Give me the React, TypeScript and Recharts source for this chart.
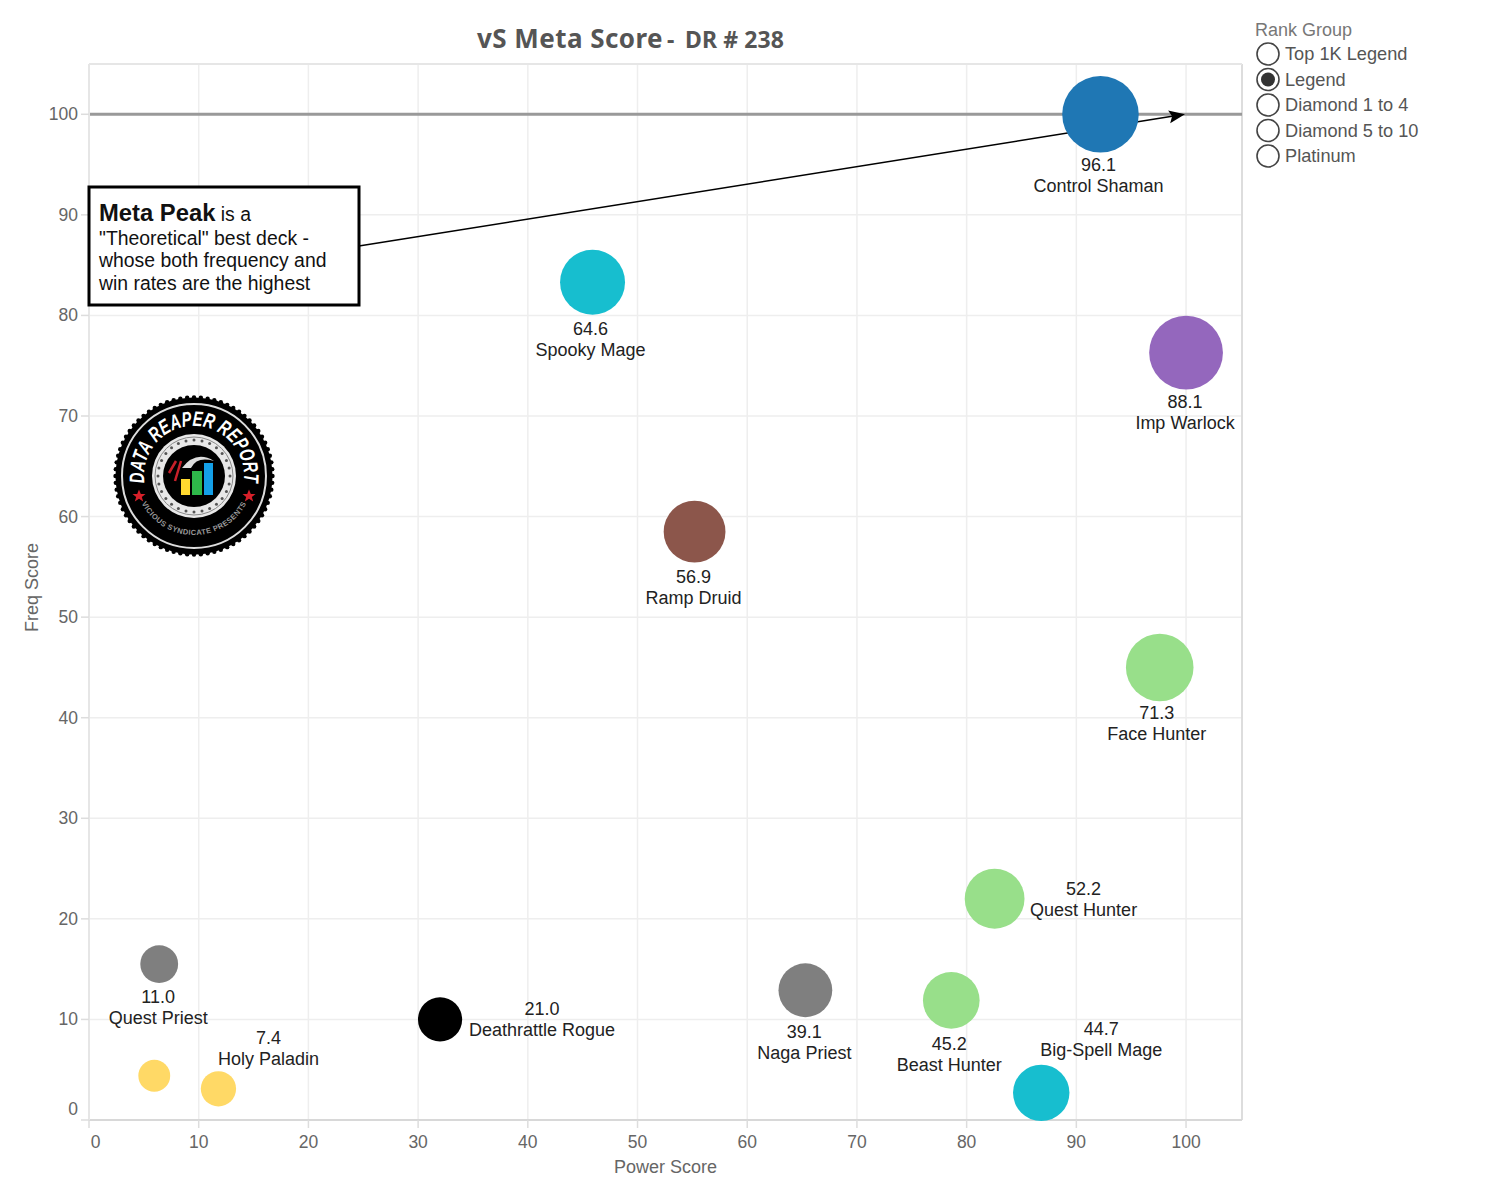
import React from "react";
import { ScatterChart, Scatter, XAxis, YAxis, ZAxis, CartesianGrid, ReferenceLine } from "recharts";

const decks = ["Control Shaman","Spooky Mage","Imp Warlock","Ramp Druid","Face Hunter","Quest Hunter","Beast Hunter","Big-Spell Mage","Naga Priest","Deathrattle Rogue","Quest Priest","Holy Paladin","Other Paladin"];
const powerScores = [92.2,45.9,100,55.2,97.6,82.55,78.6,86.8,65.3,32,6.4,11.8,5.95];
const freqScores = [100,83.3,76.3,58.5,45,22,11.9,2.7,12.9,10,15.5,3.1,4.4];
const metaScores = [96.1,64.6,88.1,56.9,71.3,52.2,45.2,44.7,39.1,21.0,11.0,7.4,3.0];
const deckClasses = ["Shaman","Mage","Warlock","Druid","Hunter","Hunter","Hunter","Mage","Priest","Rogue","Priest","Paladin","Paladin"];
const tickValues = [0,10,20,30,40,50,60,70,80,90,100];
const rankGroups = ["Top 1K Legend","Legend","Diamond 1 to 4","Diamond 5 to 10","Platinum"];
const selectedRank = "Legend";

const classColors: Record<string,string> = {
  Shaman:"#1f77b4", Mage:"#17becf", Warlock:"#9467bd", Druid:"#8c564b",
  Hunter:"#98df8a", Priest:"#7f7f7f", Rogue:"#000000", Paladin:"#ffd966",
};
const labelOffsets: Record<string,[number,number]> = {
  "Control Shaman":[-2,51],"Spooky Mage":[-2,47],"Imp Warlock":[-1,49],"Ramp Druid":[-1,45],
  "Face Hunter":[-3,46],"Quest Hunter":[89,-10],"Beast Hunter":[-2,44],"Big-Spell Mage":[60,-64],
  "Naga Priest":[-1,42],"Deathrattle Rogue":[102,-10],"Quest Priest":[-1,33],"Holy Paladin":[50,-51],
};
const rows = decks.map((name,i)=>({name,power:powerScores[i],freq:freqScores[i],meta:metaScores[i],cls:deckClasses[i]}));
const FONT = "'Liberation Sans', Arial, sans-serif";

const Bubble = (p:any) => {
  const d = p.payload; const r = Math.sqrt(p.size/Math.PI); const off = labelOffsets[d.name];
  return <g>
    <circle cx={p.cx} cy={p.cy} r={r} fill={classColors[d.cls]} />
    {off && <text textAnchor="middle" fontFamily={FONT} fontSize={18} fill="#222">
      <tspan x={p.cx+off[0]} y={p.cy+off[1]+6}>{d.meta.toFixed(1)}</tspan>
      <tspan x={p.cx+off[0]} y={p.cy+off[1]+27}>{d.name}</tspan>
    </text>}
  </g>;
};
const XTick = (p:any) => <g>
  <line x1={p.x} x2={p.x} y1={1120} y2={1128} stroke="#ddd" strokeWidth={1.5}/>
  <text x={p.payload.value===0?p.x+6.5:p.x} y={1148} textAnchor="middle" fontFamily={FONT} fontSize={17.5} fill="#666">{p.payload.value}</text>
</g>;
const YTick = (p:any) => <g>
  <line x1={81} x2={89} y1={p.y} y2={p.y} stroke="#ddd" strokeWidth={1.5}/>
  <text x={78} y={(p.payload.value===0?p.y-11:p.y)+6} textAnchor="end" fontFamily={FONT} fontSize={17.5} fill="#666">{p.payload.value}</text>
</g>;
const Arrow = (p:any) => {
  const {x1,y1,x2,y2} = p; const a = Math.atan2(y2-y1,x2-x1); const L=16,W=6.5;
  const bx=x2-L*Math.cos(a), by=y2-L*Math.sin(a);
  return <g>
    <line x1={x1} y1={y1} x2={bx+3*Math.cos(a)} y2={by+3*Math.sin(a)} stroke="#000" strokeWidth={1.5}/>
    <polygon points={`${x2},${y2} ${bx-W*Math.sin(a)},${by+W*Math.cos(a)} ${bx+3*Math.cos(a)},${by+3*Math.sin(a)} ${bx+W*Math.sin(a)},${by-W*Math.cos(a)}`} fill="#000"/>
  </g>;
};
const Logo = () => {
  const cx=194, cy=476;
  const teeth = Array.from({length:72},(_,i)=>i*5);
  const dots = Array.from({length:28},(_,i)=>i*360/28);
  const star = "0,-6.5 1.8,-2 6.5,-2 2.8,1 4.2,5.5 0,2.8 -4.2,5.5 -2.8,1 -6.5,-2 -1.8,-2";
  return <g>
    {teeth.map(a=><circle key={a} cx={cx+78.5*Math.cos(a*Math.PI/180)} cy={cy+78.5*Math.sin(a*Math.PI/180)} r={2.2} fill="#000"/>)}
    <circle cx={cx} cy={cy} r={78.5} fill="#000"/>
    <circle cx={cx} cy={cy} r={72} fill="none" stroke="#ddd" strokeWidth={2}/>
    <defs>
      <path id="logoTop" d={`M ${cx-49.5} ${cy+7} A 50 50 0 1 1 ${cx+49.5} ${cy+7}`}/>
      <path id="logoBottom" d={`M ${cx-52} ${cy+28} A 59 59 0 0 0 ${cx+52} ${cy+28}`}/>
    </defs>
    <text fontFamily={FONT} fontWeight="bold" fontStyle="italic" fontSize={21} fill="#fff">
      <textPath href="#logoTop" textLength={170} lengthAdjust="spacingAndGlyphs">DATA REAPER REPORT</textPath>
    </text>
    <text fontFamily={FONT} fontWeight="bold" fontSize={7.5} fill="#999" letterSpacing={0.4}>
      <textPath href="#logoBottom" startOffset="50%" textAnchor="middle">VICIOUS SYNDICATE PRESENTS</textPath>
    </text>
    <polygon transform={`translate(${cx-55},${cy+20})`} points={star} fill="#d8202a"/>
    <polygon transform={`translate(${cx+55},${cy+20})`} points={star} fill="#d8202a"/>
    <circle cx={cx} cy={cy} r={42} fill="#e8e8e8"/>
    <circle cx={cx} cy={cy} r={39} fill="none" stroke="#888" strokeWidth={1}/>
    {dots.map(a=><circle key={a} cx={cx+36*Math.cos(a*Math.PI/180)} cy={cy+36*Math.sin(a*Math.PI/180)} r={1.5} fill="#555"/>)}
    <circle cx={cx} cy={cy} r={31} fill="#000"/>
    <rect x={cx-13} y={cy+3} width={9} height={16} fill="#ffd92f"/>
    <rect x={cx-2} y={cy-5} width={10} height={24} fill="#2eb84a"/>
    <rect x={cx+10} y={cy-13} width={9} height={32} fill="#14a0e8"/>
    <path d={`M ${cx-25} ${cy-3} L ${cx-18} ${cy-15} M ${cx-19} ${cy+5} L ${cx-13} ${cy-15}`} stroke="#c8202a" strokeWidth={2.5}/>
    <path d={`M ${cx-12} ${cy-8} Q ${cx+2} ${cy-26} ${cx+20} ${cy-15} Q ${cx+3} ${cy-20} ${cx-3} ${cy-8} Z`} fill="#ddd"/>
  </g>;
};

export default function App(){
  return <div style={{position:"absolute",left:0,top:0,width:1500,height:1200,background:"#fff"}}>
    <ScatterChart width={1500} height={1200} margin={{top:64,right:258,bottom:0,left:0}} data={rows}>
      <CartesianGrid stroke="#eeeeee" strokeWidth={1.5}/>
      <XAxis type="number" dataKey="power" domain={[0,105.1]} ticks={tickValues} interval={0} height={80} tick={<XTick/>} tickLine={false} axisLine={{stroke:"#d8d8d8",strokeWidth:2}} label={{value:"Power Score",position:"insideBottom",offset:27,fill:"#666",fontSize:18,fontFamily:FONT}}/>
      <YAxis type="number" dataKey="freq" domain={[0,105]} ticks={tickValues} interval={0} width={89} tick={<YTick/>} tickLine={false} axisLine={{stroke:"#e6e6e6",strokeWidth:2}} label={{value:"Freq Score",angle:-90,position:"insideLeft",dx:27,dy:40,fill:"#666",fontSize:18,fontFamily:FONT}}/>
      <ZAxis type="number" dataKey="meta" domain={[0,100]} range={[675,4760]}/>
      <ReferenceLine x={105.1} stroke="#dddddd" strokeWidth={2}/>
      <ReferenceLine y={105} stroke="#e6e6e6" strokeWidth={2}/>
      <ReferenceLine y={100} stroke="#999999" strokeWidth={3}/>
      <Scatter data={rows} dataKey="freq" isAnimationActive={false} shape={<Bubble/>}/>
      <ReferenceLine segment={[{x:24.6,y:86.9},{x:99.9,y:100}]} shape={<Arrow/>}/>
    </ScatterChart>
    <svg width={1500} height={1200} style={{position:"absolute",left:0,top:0,pointerEvents:"none"}}>
      <text y={48} fontFamily="'Noto Sans', sans-serif" fontWeight="bold" fill="#555">
        <tspan x={477} fontSize={26} letterSpacing={0.45}>vS Meta Score</tspan>
        <tspan x={667} fontSize={23}>-</tspan>
        <tspan x={685} fontSize={23} letterSpacing={0.1}>DR # 238</tspan>
      </text>
      <rect x={89} y={187} width={270} height={118} fill="#fff" stroke="#000" strokeWidth={3}/>
      <text fontFamily={FONT} fontSize={19.4} fill="#111">
        <tspan x={99} y={221}><tspan fontWeight="bold" fontSize={23.8}>Meta Peak</tspan> is a</tspan>
        <tspan x={99} y={245}>"Theoretical" best deck -</tspan>
        <tspan x={99} y={267}>whose both frequency and</tspan>
        <tspan x={99} y={290}>win rates are the highest</tspan>
      </text>
      <Logo/>
      <text x={1255} y={36} fontFamily={FONT} fontSize={18} fill="#777">Rank Group</text>
      {rankGroups.map((g,i)=>{ const y=54+i*25.5; return <g key={g}>
        <circle cx={1268} cy={y} r={11} fill="#fff" stroke="#444" strokeWidth={1.6}/>
        {g===selectedRank && <circle cx={1268} cy={y} r={7} fill="#333"/>}
        <text x={1285} y={y+6} fontFamily={FONT} fontSize={18.2} fill="#555">{g}</text>
      </g>; })}
    </svg>
  </div>;
}
